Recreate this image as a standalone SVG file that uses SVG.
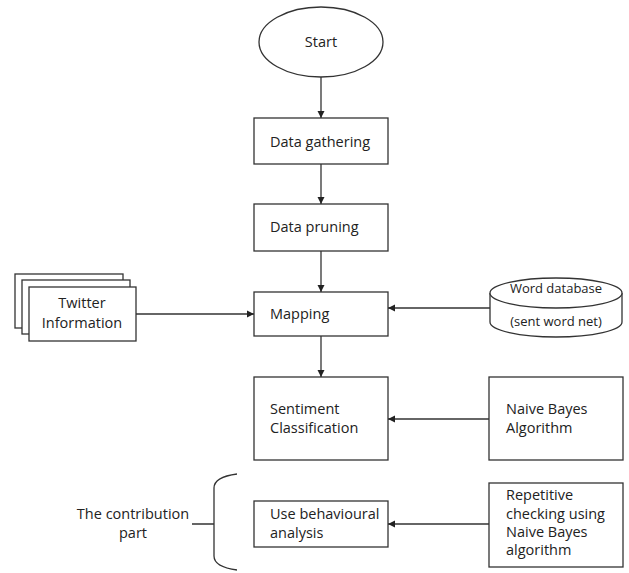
<svg xmlns="http://www.w3.org/2000/svg" width="629" height="573" viewBox="0 0 629 573">
<defs>
<style>
.s{fill:#fff;stroke:#333;stroke-width:1.3}
.l{fill:none;stroke:#333;stroke-width:1.3}
text{font-family:"Open Sans","Noto Sans",sans-serif;font-size:14.5px;fill:#222}
.c{text-anchor:middle}
.sm{font-size:13px}
</style>
<marker id="a" markerWidth="8" markerHeight="8" refX="7" refY="4" orient="auto" markerUnits="userSpaceOnUse">
<path d="M0,0.5 L7,4 L0,7.5 Z" fill="#222"/>
</marker>
</defs>
<rect width="629" height="573" fill="#fff"/>
<g id="start"><ellipse class="s" cx="321" cy="42" rx="62" ry="35"/><text class="c" x="321" y="47">Start</text></g>
<g id="gather"><rect class="s" x="254" y="118" width="134" height="46"/><text x="270" y="147">Data gathering</text></g>
<g id="prune"><rect class="s" x="254" y="204" width="134" height="47"/><text x="270" y="232">Data pruning</text></g>
<g id="mapping"><rect class="s" x="254" y="292" width="134" height="44"/><text x="270" y="319">Mapping</text></g>
<g id="twitter">
<rect class="s" x="15" y="274" width="108" height="54"/>
<rect class="s" x="22" y="280" width="108" height="54"/>
<rect class="s" x="29" y="287" width="107" height="54"/>
<text class="c" x="82" y="308">Twitter</text><text class="c" x="82" y="328">Information</text>
</g>
<g id="worddb">
<path class="s" d="M490,293 L490,322 A66,15 0 0 0 622,322 L622,293"/>
<ellipse class="s" cx="556" cy="293" rx="66" ry="15"/>
<text class="c sm" x="556" y="293">Word database</text><text class="c sm" x="556" y="326">(sent word net)</text>
</g>
<g id="sentiment"><rect class="s" x="254" y="377" width="134" height="83"/><text x="270" y="414">Sentiment</text><text x="270" y="433">Classification</text></g>
<g id="naive"><rect class="s" x="489" y="377" width="134" height="83"/><text x="506" y="414">Naive Bayes</text><text x="506" y="433">Algorithm</text></g>
<g id="behaviour"><rect class="s" x="254" y="501" width="134" height="46"/><text x="270" y="519">Use behavioural</text><text x="270" y="538">analysis</text></g>
<g id="repetitive"><rect class="s" x="489" y="483" width="134" height="84"/><text x="506" y="500">Repetitive</text><text x="506" y="519">checking using</text><text x="506" y="537">Naive Bayes</text><text x="506" y="555">algorithm</text></g>
<g id="contribution">
<path class="l" d="M237,474 C222,476 214,480 214,488 L214,556 C214,564 222,568 237,570 M192,524 L214,524"/>
<text class="c" x="133" y="519">The contribution</text><text class="c" x="133" y="538">part</text>
</g>
<g id="connectors">
<path class="l" d="M321,77 L321,118" marker-end="url(#a)"/>
<path class="l" d="M321,164 L321,204" marker-end="url(#a)"/>
<path class="l" d="M321,251 L321,292" marker-end="url(#a)"/>
<path class="l" d="M321,336 L321,377" marker-end="url(#a)"/>
<path class="l" d="M136,314 L254,314" marker-end="url(#a)"/>
<path class="l" d="M490,308 L388,308" marker-end="url(#a)"/>
<path class="l" d="M489,419 L388,419" marker-end="url(#a)"/>
<path class="l" d="M489,524 L388,524" marker-end="url(#a)"/>
</g>
</svg>
